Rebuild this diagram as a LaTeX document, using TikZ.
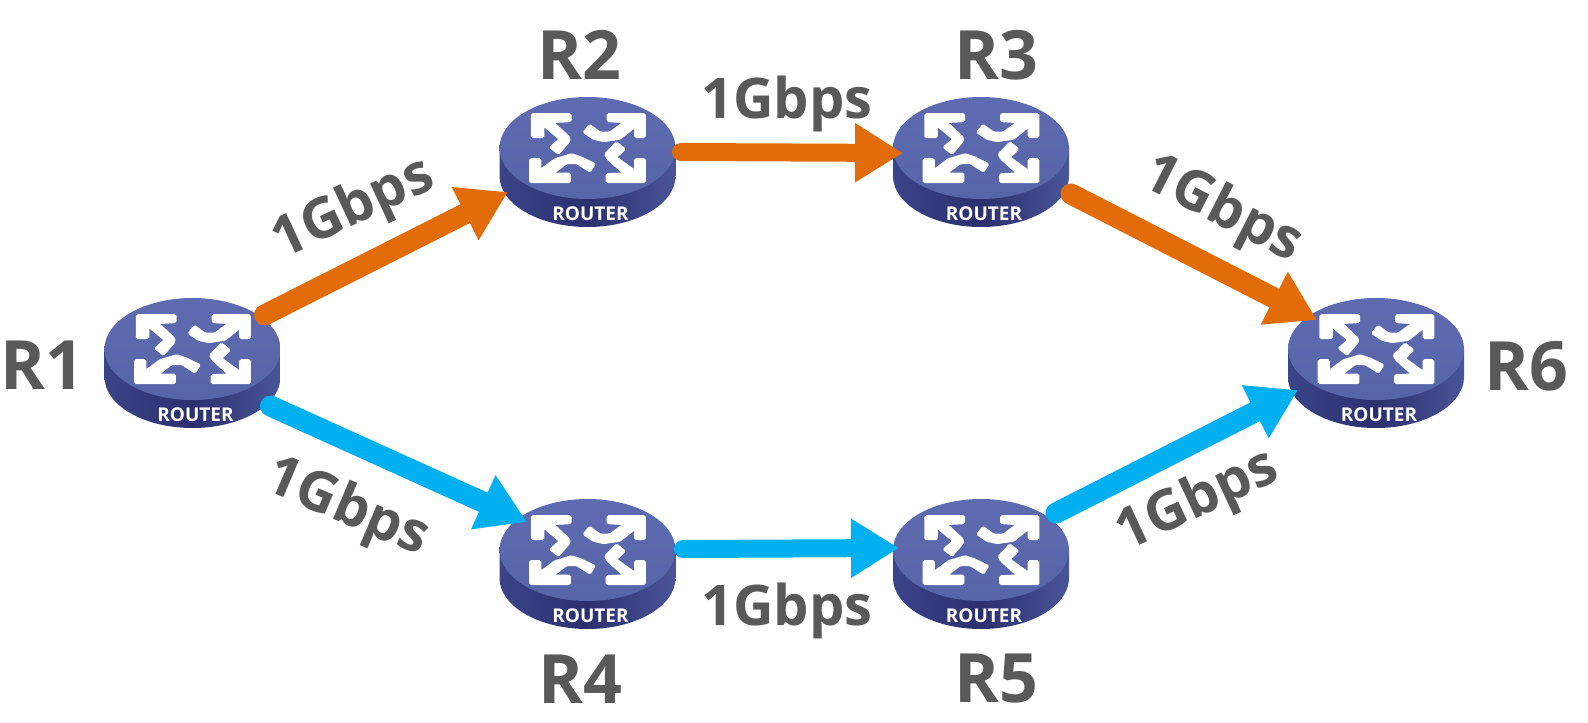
\documentclass[tikz,border=0pt]{standalone}
\usepackage{fontspec}
\setmainfont{Open Sans}
\usetikzlibrary{arrows.meta,shapes.geometric}
\definecolor{lblgrey}{HTML}{595959}
\definecolor{orangeline}{HTML}{E36C0A}
\definecolor{blueline}{HTML}{00B0F0}
\definecolor{rtop}{HTML}{5E6BB0}
\definecolor{rtopb}{HTML}{5664A8}
\definecolor{rsideA}{HTML}{3A4488}
\definecolor{rsideB}{HTML}{2B2F6E}
\definecolor{rsideC}{HTML}{4A5599}
\tikzset{
  rbase/.style={ellipse,minimum width=176pt,minimum height=102pt,inner sep=0pt,outer sep=0pt,
    top color=rtop,bottom color=rtopb},
  rname/.style={text=lblgrey,font=\bfseries\fontsize{68}{68}\selectfont,inner sep=0pt},
  speed/.style={text=lblgrey,font=\bfseries\fontsize{56}{56}\selectfont,inner sep=0pt},
  rtag/.style={text=white,font=\bfseries\fontsize{19}{19}\selectfont,inner sep=0pt},
  orangearrow/.style={draw=orangeline,line width=18pt,line cap=round,
    -{Triangle[length=48pt,width=56pt,fill=orangeline]}},
  bluearrow/.style={draw=blueline,line width=18pt,line cap=round,
    -{Triangle[length=48pt,width=56pt,fill=blueline]}},
  diagonal/.style={line width=21pt},
  rglyph/.style={fill=white,draw=white,line width=1.6pt,rounded corners=1.2pt}
}
\newcommand{\routerbox}[3]{%
  \begin{scope}[shift={(#2,#3)}]
    \path[left color=rsideA,right color=rsideC,middle color=rsideB]
      (-88,0) -- (-88,28) arc[start angle=180,end angle=0,x radius=88,y radius=51] -- (88,0) -- cycle;
    \node[rbase] (#1) at (0,0) {};
    \path[rglyph] (-55.8,-34) -- (-16.8,-34) -- (-16.8,-26.7) -- (-34,-25.7) -- (-18,-10.7) -- (-18,-6.7) -- (-29,6) -- (-37.5,-0.7) -- (-28,-9) -- (-44,-22.3) -- (-44,-10.7) -- (-55.8,-10.7) -- cycle;
    \path[rglyph] (57.5,-34) -- (57.5,-10.7) -- (47.5,-10.7) -- (47.5,-21) -- (32.5,-9) -- (16,-6.7) -- (6,-9) -- (-4,-15.7) -- (2,-23.3) -- (12.5,-15.7) -- (22.5,-15.7) -- (36,-25.7) -- (20,-26.7) -- (20,-34) -- cycle;
    \path[rglyph] (-57.5,34.3) -- (-57.5,11) -- (-47,11) -- (-47,21.7) -- (-32.5,11) -- (-16,6) -- (-6,9.3) -- (7.5,16) -- (2.5,23.7) -- (-10.8,15.3) -- (-20.8,15.3) -- (-34,25.3) -- (-17.5,25.3) -- (-17.5,34.3) -- cycle;
    \path[rglyph] (57.5,34.3) -- (19,34.3) -- (19,26) -- (36,25.3) -- (20,11) -- (17.5,6) -- (29,-5.7) -- (37.5,1) -- (29,9.3) -- (47.5,22.7) -- (47.5,11) -- (57.5,11) -- cycle;
    \node[rtag] (#1tag) at (3,66) {ROUTER};
  \end{scope}%
}
\begin{document}
\begin{tikzpicture}[x=1pt,y=-1pt]
\useasboundingbox (0,0) rectangle (1588,723);
\fill[white] (0,0) rectangle (1588,723);
\routerbox{R1}{192.5}{349}
\routerbox{R2}{587.5}{148}
\routerbox{R3}{981}{148}
\routerbox{R4}{587.5}{550}
\routerbox{R5}{981}{550}
\routerbox{R6}{1376}{349}

\draw[orangearrow,diagonal] ([shift={(72,-34)}]R1.center) -- ([shift={(-79.5,44)}]R2.center);
\draw[orangearrow] ([shift={(93.5,4)}]R2.center) -- ([shift={(-78,5)}]R3.center);
\draw[orangearrow,diagonal] ([shift={(90,46)}]R3.center) -- ([shift={(-59,-29)}]R6.center);
\draw[bluearrow,diagonal] ([shift={(78,57)}]R1.center) -- ([shift={(-60.5,-28)}]R4.center);
\draw[bluearrow] ([shift={(95.5,-1)}]R4.center) -- ([shift={(-82,-2)}]R5.center);
\draw[bluearrow,diagonal] ([shift={(75,-37)}]R5.center) -- ([shift={(-78,41)}]R6.center);

\node[rname] (lR1) at (42.5,365) {R1};
\node[rname] (lR2) at (579,55) {R2};
\node[rname] (lR3) at (996.5,55) {R3};
\node[rname] (lR4) at (580,679) {R4};
\node[rname] (lR5) at (996.5,679) {R5};
\node[rname] (lR6) at (1526,366) {R6};

\node[speed,rotate=25] (s12) at (353.5,210) {1Gbps};
\node[speed] (s23) at (787,104) {1Gbps};
\node[speed,rotate=-27] (s36) at (1222,210) {1Gbps};
\node[speed,rotate=-23] (s14) at (347,509) {1Gbps};
\node[speed] (s45) at (787,611) {1Gbps};
\node[speed,rotate=25] (s56) at (1198,502) {1Gbps};
\end{tikzpicture}
\end{document}
